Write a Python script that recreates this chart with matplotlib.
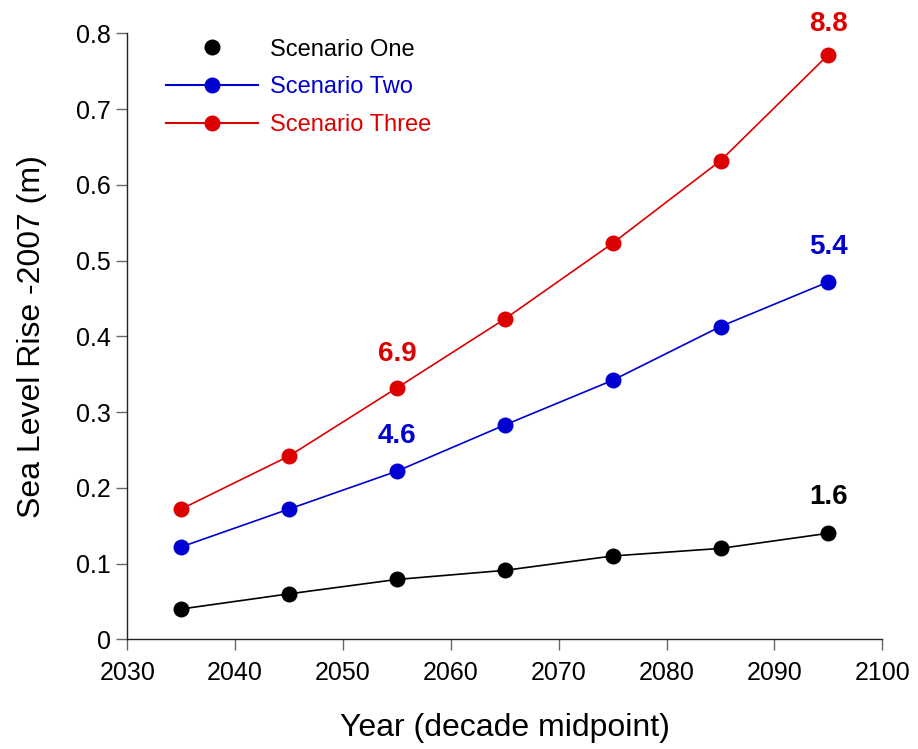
import matplotlib
matplotlib.use("Agg")
import matplotlib.pyplot as plt
from matplotlib.lines import Line2D

years = [2035, 2045, 2055, 2065, 2075, 2085, 2095]
scenario_one = [0.040, 0.060, 0.079, 0.091, 0.110, 0.120, 0.140]
scenario_two = [0.122, 0.172, 0.222, 0.283, 0.342, 0.413, 0.472]
scenario_three = [0.172, 0.242, 0.332, 0.423, 0.523, 0.632, 0.772]

series_names = ["Scenario One", "Scenario Two", "Scenario Three"]
colors = ["#000000", "#0000D0", "#DD0000"]

# value labels: (series index, year, text)
labels = [
    (2, 2055, "6.9"),
    (1, 2055, "4.6"),
    (2, 2095, "8.8"),
    (1, 2095, "5.4"),
    (0, 2095, "1.6"),
]
# vertical offset (points) of each value label above its marker
label_offsets = [24.5, 25, 22, 25, 26]

xticks = [2030, 2040, 2050, 2060, 2070, 2080, 2090, 2100]
yticks = [0, 0.1, 0.2, 0.3, 0.4, 0.5, 0.6, 0.7, 0.8]
ytick_labels = ["0", "0.1", "0.2", "0.3", "0.4", "0.5", "0.6", "0.7", "0.8"]

plt.rcParams["font.family"] = ["Liberation Sans", "DejaVu Sans"]

fig = plt.figure(figsize=(9.18, 7.49), dpi=100)
ax = fig.add_axes([0.1387, 0.1465, 0.8224, 0.8088])

data = [scenario_one, scenario_two, scenario_three]
for vals, c in zip(data, colors):
    ax.plot(years, vals, color=c, lw=1.2, marker="o", markersize=11.5,
            markeredgewidth=0, zorder=3)

for (si, yr, txt), off in zip(labels, label_offsets):
    yv = data[si][years.index(yr)]
    ax.annotate(txt, xy=(yr, yv), xytext=(0, off), textcoords="offset points",
                ha="center", va="center", fontsize=20, fontweight="bold",
                color=colors[si])

ax.set_xlim(2030, 2100)
ax.set_ylim(0, 0.8)
ax.set_xticks(xticks)
ax.set_yticks(yticks)
ax.set_yticklabels(ytick_labels)

for s in ["top", "right"]:
    ax.spines[s].set_visible(False)
for s in ["left", "bottom"]:
    ax.spines[s].set_linewidth(1.0)
    ax.spines[s].set_color("#222222")

ax.tick_params(axis="both", direction="out", length=8, width=1,
               color="#666666", labelsize=18, labelcolor="black")
ax.tick_params(axis="x", pad=8)
ax.tick_params(axis="y", pad=4)

ax.set_xlabel("Year (decade midpoint)", fontsize=23, labelpad=20)
ax.set_ylabel("Sea Level Rise -2007 (m)", fontsize=23, labelpad=21)

handles = [
    Line2D([], [], color=colors[0], lw=0, marker="o", markersize=11.5, markeredgewidth=0),
    Line2D([], [], color=colors[1], lw=1.5, marker="o", markersize=11.5, markeredgewidth=0),
    Line2D([], [], color=colors[2], lw=1.5, marker="o", markersize=11.5, markeredgewidth=0),
]
leg = ax.legend(handles, series_names, loc="upper left",
                bbox_to_anchor=(0.039, 1.007), frameon=False, fontsize=17,
                handlelength=3.9, handletextpad=0.5, labelspacing=0.66,
                borderaxespad=0)
for t, c in zip(leg.get_texts(), colors):
    t.set_color(c)

fig.savefig("out.png", dpi=100)
